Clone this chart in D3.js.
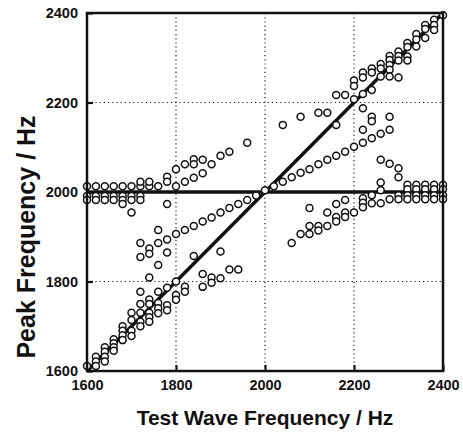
<!DOCTYPE html>
<html>
<head>
<meta charset="utf-8">
<script src="https://cdn.jsdelivr.net/npm/d3@7"></script>
<style>
body { margin: 0; background: #fff; }
text { font-family: "Liberation Sans", Arial, sans-serif; font-weight: bold; fill: #111; }
</style>
</head>
<body>
<div id="chart"></div>
<script>
// tick values
var xTicks = [1600, 1800, 2000, 2200, 2400];
var yTicks = [1600, 1800, 2000, 2200, 2400];
var gridVals = [1800, 2000, 2200];

// reference lines (test frequency, peak frequency)
var diagLine = [[1600, 1600], [2400, 2400]];
var baseLine = [[1600, 2000], [2400, 2000]];

// peaks near 2000 Hz, low test frequencies
var baseLeft = [
    [1600, 2013], [1600, 1991], [1600, 1982],
    [1620, 2013], [1620, 1991], [1620, 1982],
    [1640, 2013], [1640, 1991], [1640, 1982],
    [1660, 2013], [1660, 1991], [1660, 1982],
    [1680, 2013], [1680, 1991], [1680, 1982], [1680, 1973],
    [1700, 2013], [1700, 1991], [1700, 1982], [1700, 1954],
    [1720, 2013], [1720, 1991], [1720, 1982],
    [1740, 2013], [1760, 2013], [1780, 1973], [1800, 2013]
];

// peaks near 2000 Hz, high test frequencies
var baseRight = [
    [2220, 1986], [2220, 1976], [2220, 1966],
    [2240, 1993], [2240, 1975],
    [2260, 2021], [2260, 2004], [2260, 1975],
    [2280, 1984], [2300, 1993], [2300, 1984],
    [2320, 2016], [2320, 2006], [2320, 1993], [2320, 1984],
    [2340, 2016], [2340, 2006], [2340, 1993], [2340, 1984],
    [2360, 2016], [2360, 2006], [2360, 1993], [2360, 1984],
    [2380, 2016], [2380, 2006], [2380, 1993], [2380, 1984],
    [2400, 2016], [2400, 2006], [2400, 1993], [2400, 1984]
];

// peaks following the test wave, low end
var diagLow = [
    [1600, 1611],
    [1620, 1632], [1620, 1621], [1620, 1611],
    [1640, 1653], [1640, 1643], [1640, 1632], [1640, 1621],
    [1660, 1671], [1660, 1662], [1660, 1653], [1660, 1645],
    [1680, 1700], [1680, 1690], [1680, 1680], [1680, 1669],
    [1700, 1730], [1700, 1714], [1700, 1690], [1700, 1678],
    [1720, 1777], [1720, 1750], [1720, 1730], [1720, 1710], [1720, 1700],
    [1740, 1809], [1740, 1760], [1740, 1750], [1740, 1730], [1740, 1720], [1740, 1710],
    [1760, 1777], [1760, 1752], [1760, 1740], [1760, 1729],
    [1780, 1786], [1780, 1747], [1780, 1736],
    [1800, 1800], [1800, 1770], [1800, 1759],
    [1820, 1788], [1820, 1777],
    [1840, 1857], [1860, 1817], [1860, 1788],
    [1880, 1809], [1880, 1797], [1900, 1867], [1900, 1807],
    [1920, 1827], [1940, 1827]
];

// peaks following the test wave, high end
var diagHigh = [
    [2040, 2150], [2080, 2168], [2120, 2177], [2140, 2177],
    [2160, 2217], [2160, 2150], [2180, 2217],
    [2200, 2249], [2200, 2237], [2200, 2207],
    [2220, 2267], [2220, 2256], [2220, 2219], [2220, 2187], [2220, 2139],
    [2240, 2276], [2240, 2267], [2240, 2228], [2240, 2168], [2240, 2158],
    [2260, 2286], [2260, 2276], [2260, 2258],
    [2280, 2304], [2280, 2295], [2280, 2284], [2280, 2273], [2280, 2258], [2280, 2168],
    [2300, 2314], [2300, 2304], [2300, 2294], [2300, 2256],
    [2320, 2333], [2320, 2324], [2320, 2303], [2320, 2294],
    [2340, 2353], [2340, 2341], [2340, 2325],
    [2360, 2373], [2360, 2364], [2360, 2344],
    [2380, 2385], [2380, 2373], [2380, 2362],
    [2400, 2395]
];

// half-slope peaks through (2000, 2000)
var midLine = [
    [1720, 1886], [1720, 1855], [1740, 1874], [1740, 1862], [1760, 1886], [1760, 1915], [1760, 1837],
    [1780, 1894], [1780, 1865], [1800, 1906],
    [1820, 1915], [1840, 1924], [1860, 1934], [1880, 1943], [1900, 1954],
    [1920, 1964], [1940, 1973], [1960, 1982], [1980, 1992], [2000, 2004],
    [2020, 2013], [2040, 2023], [2060, 2033], [2080, 2043], [2100, 2051],
    [2120, 2062], [2140, 2072], [2160, 2081], [2180, 2090], [2200, 2101],
    [2220, 2110], [2240, 2120], [2260, 2130], [2280, 2139]
];

// branches above 2000 at low end and below 2000 at high end
var armUpper = [
    [1720, 2023], [1740, 2023], [1780, 2034], [1780, 2023],
    [1800, 2051], [1820, 2062], [1820, 2023], [1840, 2073], [1840, 2062], [1840, 2032],
    [1860, 2072], [1860, 2042], [1880, 2062], [1900, 2081], [1920, 2090], [1960, 2110],
    [2260, 2072], [2280, 2063], [2300, 2053], [2300, 2033]
];
var armLower = [
    [2060, 1886], [2080, 1906], [2100, 1906], [2100, 1924], [2100, 1964],
    [2120, 1924], [2120, 1914], [2140, 1954], [2140, 1924],
    [2160, 1973], [2160, 1944], [2160, 1934],
    [2180, 1982], [2180, 1954], [2180, 1944], [2200, 1954]
];

var W = 463, H = 433;
var svg = d3.select("#chart")
    .append("svg")
    .attr("width", W)
    .attr("height", H);

var x = d3.scaleLinear().domain([1600, 2400]).range([87, 443]);
var y = d3.scaleLinear().domain([1600, 2400]).range([371, 13]);

// dotted grid
svg.append("g")
    .selectAll("line.vg")
    .data(gridVals)
    .enter()
    .append("line")
    .attr("x1", function (d) { return x(d); })
    .attr("x2", function (d) { return x(d); })
    .attr("y1", y(2400))
    .attr("y2", y(1600))
    .attr("stroke", "#222")
    .attr("stroke-width", 1.2)
    .attr("stroke-dasharray", "1.2,3");
svg.append("g")
    .selectAll("line.hg")
    .data(gridVals)
    .enter()
    .append("line")
    .attr("y1", function (d) { return y(d); })
    .attr("y2", function (d) { return y(d); })
    .attr("x1", x(1600))
    .attr("x2", x(2400))
    .attr("stroke", "#222")
    .attr("stroke-width", 1.2)
    .attr("stroke-dasharray", "1.2,3");

// axes with inward ticks
var xAxis = svg.append("g")
    .attr("transform", "translate(0," + y(1600) + ")")
    .call(d3.axisBottom(x).tickValues(xTicks).tickFormat(d3.format("d")).tickSize(-6).tickPadding(9));
var yAxis = svg.append("g")
    .attr("transform", "translate(" + x(1600) + ",0)")
    .call(d3.axisLeft(y).tickValues(yTicks).tickFormat(d3.format("d")).tickSize(-6).tickPadding(9));

[xAxis, yAxis].forEach(function (g) {
    g.select(".domain").remove();
    g.selectAll("line").attr("stroke", "#111").attr("stroke-width", 2.2);
    g.selectAll("text")
        .style("font-size", "14.5px")
        .style("font-family", "'Liberation Sans', Arial, sans-serif")
        .style("font-weight", "bold")
        .attr("fill", "#111");
});

// reference lines
var line = d3.line()
    .x(function (d) { return x(d[0]); })
    .y(function (d) { return y(d[1]); });

svg.append("path")
    .datum(baseLine)
    .attr("fill", "none")
    .attr("stroke", "#111")
    .attr("stroke-width", 3.5)
    .attr("d", line);

svg.append("path")
    .datum(diagLine)
    .attr("fill", "none")
    .attr("stroke", "#111")
    .attr("stroke-width", 3.5)
    .attr("d", line);

// peaks
var allPeaks = baseLeft.concat(baseRight, diagLow, diagHigh, midLine, armUpper, armLower);
svg.append("g")
    .selectAll("circle")
    .data(allPeaks)
    .enter()
    .append("circle")
    .attr("cx", function (d) { return x(d[0]); })
    .attr("cy", function (d) { return y(d[1]); })
    .attr("r", 3.5)
    .attr("fill", "#fff")
    .attr("stroke", "#111")
    .attr("stroke-width", 1.5);

// frame
svg.append("rect")
    .attr("x", x(1600))
    .attr("y", y(2400))
    .attr("width", x(2400) - x(1600))
    .attr("height", y(1600) - y(2400))
    .attr("fill", "none")
    .attr("stroke", "#111")
    .attr("stroke-width", 2.5);

// titles
svg.append("text")
    .attr("x", 265)
    .attr("y", 425)
    .attr("text-anchor", "middle")
    .style("font-size", "21px")
    .text("Test Wave Frequency / Hz");

svg.append("text")
    .attr("transform", "translate(35,237) rotate(-90)")
    .attr("text-anchor", "middle")
    .style("font-size", "25px")
    .text("Peak Frequency / Hz");
</script>
</body>
</html>
